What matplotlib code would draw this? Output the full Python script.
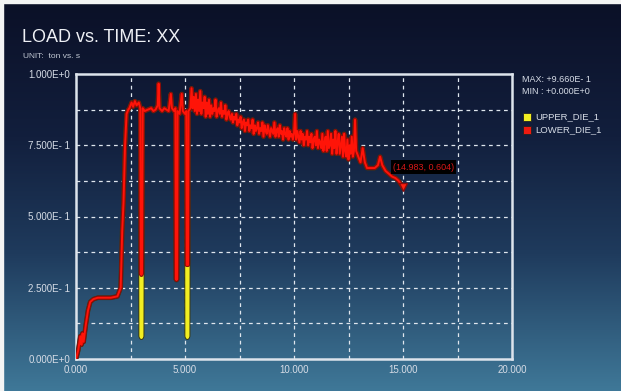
import numpy as np
import matplotlib.pyplot as plt
import matplotlib.patheffects as pe
from matplotlib.colors import LinearSegmentedColormap
from matplotlib.patches import Rectangle

plt.rcParams['font.family'] = ['Liberation Sans', 'DejaVu Sans']

my_dpi = 100
W, H = 621, 391

# press load curve (ton) against time (s): ramp-up, the three unloading dips and the first part of the plateau
tempo_a = [0.00, 0.10, 0.20, 0.25, 0.30, 0.35, 0.45, 0.55, 0.65, 0.80, 1.00, 1.30, 1.60, 1.90,
           2.05, 2.12, 2.18, 2.25, 2.32, 2.40, 2.45, 2.55, 2.62, 2.70, 2.78, 2.88, 2.95,
           2.97, 3.00, 3.03, 3.06, 3.15, 3.30, 3.45, 3.55, 3.65, 3.75, 3.79, 3.83, 3.95,
           4.05, 4.15, 4.25, 4.35, 4.40, 4.50, 4.56, 4.58, 4.61, 4.64, 4.66, 4.75, 4.85,
           4.90, 5.00, 5.06, 5.08, 5.11, 5.14, 5.16, 5.25, 5.30, 5.35, 5.40, 5.45, 5.50,
           5.55, 5.60, 5.65, 5.70, 5.75, 5.80, 5.85, 5.90, 5.95, 6.00, 6.05, 6.10, 6.15]
carga_a = [0.000, 0.030, 0.080, 0.050, 0.090, 0.060, 0.120, 0.170, 0.200, 0.210, 0.215, 0.215, 0.215, 0.220,
           0.250, 0.450, 0.550, 0.750, 0.860, 0.875, 0.880, 0.900, 0.885, 0.905, 0.890, 0.900, 0.880,
           0.300, 0.295, 0.300, 0.880, 0.870, 0.875, 0.880, 0.870, 0.875, 0.890, 0.966, 0.880, 0.870,
           0.880, 0.875, 0.870, 0.930, 0.880, 0.870, 0.880, 0.280, 0.277, 0.280, 0.870, 0.860, 0.930,
           0.870, 0.860, 0.870, 0.330, 0.330, 0.330, 0.870, 0.880, 0.950, 0.880, 0.920, 0.870, 0.930,
           0.860, 0.910, 0.870, 0.940, 0.860, 0.900, 0.880, 0.920, 0.850, 0.900, 0.860, 0.910, 0.850]

# slowly decaying noisy plateau, sampled every 0.05 s
tempo_b = np.round(np.arange(6.20, 12.76, 0.05), 2)
carga_b = [0.89, 0.86, 0.88, 0.87, 0.91, 0.85, 0.87, 0.88, 0.86, 0.90, 0.85, 0.87, 0.86, 0.89, 0.84, 0.86,
           0.87, 0.85, 0.84, 0.86, 0.83, 0.85, 0.84, 0.86, 0.82, 0.84, 0.83, 0.85, 0.81, 0.83, 0.84, 0.80, 0.83, 0.82, 0.84, 0.80,
           0.82, 0.81, 0.84, 0.79, 0.82, 0.80, 0.81, 0.83, 0.79, 0.81, 0.80, 0.83, 0.78, 0.82, 0.80, 0.79, 0.82, 0.80, 0.78, 0.81,
           0.80, 0.79, 0.83, 0.78, 0.80, 0.81, 0.78, 0.82, 0.79, 0.80, 0.77, 0.81, 0.79, 0.78, 0.81, 0.77, 0.80, 0.78, 0.79, 0.77,
           0.79, 0.86, 0.77, 0.80, 0.78, 0.76, 0.80, 0.77, 0.79, 0.75, 0.78, 0.77, 0.80, 0.75, 0.78, 0.76, 0.79, 0.74, 0.77, 0.78,
           0.75, 0.80, 0.74, 0.77, 0.76, 0.74, 0.79, 0.73, 0.76, 0.78, 0.73, 0.80, 0.74, 0.75, 0.79, 0.72, 0.77, 0.74, 0.80, 0.72,
           0.76, 0.79, 0.72, 0.75, 0.78, 0.71, 0.79, 0.73, 0.71, 0.77, 0.70, 0.75, 0.72, 0.78, 0.71, 0.73]

# tail down to the end of the stroke
tempo_c = [12.80, 12.85, 12.95, 13.05, 13.15, 13.25, 13.35, 13.50, 13.70, 13.85, 13.95, 14.05,
           14.20, 14.35, 14.50, 14.65, 14.80, 14.983]
carga_c = [0.840, 0.730, 0.710, 0.690, 0.740, 0.690, 0.670, 0.670, 0.670, 0.680, 0.710, 0.680,
           0.660, 0.650, 0.640, 0.635, 0.625, 0.604]

tempo = list(tempo_a) + list(tempo_b) + list(tempo_c)
lower_die = carga_a + carga_b + carga_c

# upper die follows the lower die except at two of the unloading dips
upper_die = list(lower_die)
upper_die[27:30] = [0.080, 0.075, 0.080]
upper_die[56:59] = [0.080, 0.075, 0.080]

load_max = 0.966
load_min = 0.000
ponto = (14.983, 0.604)

fig = plt.figure(figsize=(W / my_dpi, H / my_dpi), dpi=my_dpi)

# gradient background
bg = fig.add_axes([0, 0, 1, 1])
cmap = LinearSegmentedColormap.from_list('fundo', [(0.0, '#3f7898'), (0.35, '#1f3b5d'),
                                                   (0.65, '#121f3d'), (1.0, '#0b1027')])
bg.imshow(np.linspace(0, 1, 256).reshape(-1, 1), aspect='auto', cmap=cmap, origin='lower',
          extent=[0, 1, 0, 1])
bg.set_axis_off()
# thin white page edge on top and left
fig.patches.append(Rectangle((0, 1 - 3 / H), 1, 3 / H, transform=fig.transFigure, color='#f4f4f4', zorder=5))
fig.patches.append(Rectangle((0, 0), 3 / W, 1, transform=fig.transFigure, color='#f4f4f4', zorder=5))

x0, x1, y0, y1 = 76, 512, 74, 359
ax = fig.add_axes([x0 / W, 1 - y1 / H, (x1 - x0) / W, (y1 - y0) / H])
ax.patch.set_alpha(0)
ax.set_xlim(0, 20)
ax.set_ylim(0, 1)

for v in np.arange(2.5, 20, 2.5):
    ax.axvline(v, color='#dfe6ee', lw=0.9, ls=(0, (3, 3)), zorder=1)
for v in np.arange(0.125, 1, 0.125):
    ax.axhline(v, color='#dfe6ee', lw=0.9, ls=(0, (3, 3)), zorder=1)

for s in ax.spines.values():
    s.set_color('#dde4ec')
    s.set_linewidth(1.8)

ax.set_xticks([0, 5, 10, 15, 20])
ax.set_xticklabels(['0.000', '5.000', '10.000', '15.000', '20.000'])
ax.set_yticks([0, 0.25, 0.5, 0.75, 1.0])
ax.set_yticklabels(['0.000E+0', '2.500E- 1', '5.000E- 1', '7.500E- 1', '1.000E+0'])
ax.tick_params(length=0, labelsize=7, labelcolor='#d6dce6', pad=4)

ax.plot(tempo, upper_die, color='#f2ee22', lw=2.0, zorder=3,
        path_effects=[pe.Stroke(linewidth=3.4, foreground='#3a3a10'), pe.Normal()])
ax.plot(tempo, lower_die, color='#ff1408', lw=1.4, zorder=4,
        path_effects=[pe.Stroke(linewidth=3.0, foreground='#8a0a0a'), pe.Normal()])
ax.plot([ponto[0]], [ponto[1]], marker='v', ms=6, color='#ff2010', mec='#8a0a0a', zorder=5)

ax.annotate('({:.3f}, {:.3f})'.format(*ponto), xy=ponto, xytext=(-7, 11), textcoords='offset points',
            fontsize=6.5, color='#d81818', ha='left', va='bottom', zorder=6,
            bbox=dict(boxstyle='square,pad=0.25', fc='black', ec='none'))

# title block
fig.text(22 / W, 1 - 38 / H, 'LOAD vs. TIME: XX', fontsize=13, color='#eef0f5', va='center')
fig.text(23 / W, 1 - 57 / H, 'UNIT:  ton vs. s', fontsize=6, color='#c4cad6', va='center')

# max / min and legend on the right
fig.text(522 / W, 1 - 79 / H, 'MAX: +{:.3f}E- 1'.format(load_max * 10), fontsize=6.5, color='#d6dce6', va='center')
fig.text(522 / W, 1 - 92 / H, 'MIN : +{:.3f}E+0'.format(load_min), fontsize=6.5, color='#d6dce6', va='center')
for yy, cor, nome in [(117, '#f2ee22', 'UPPER_DIE_1'), (130, '#ee1a10', 'LOWER_DIE_1')]:
    fig.patches.append(Rectangle((523 / W, 1 - (yy + 4) / H), 8 / W, 8 / H, transform=fig.transFigure,
                                 fc=cor, ec='#222222', lw=0.6))
    fig.text(535 / W, 1 - yy / H, nome, fontsize=6.8, color='#d6dce6', va='center')

plt.savefig('out.png', dpi=my_dpi)
